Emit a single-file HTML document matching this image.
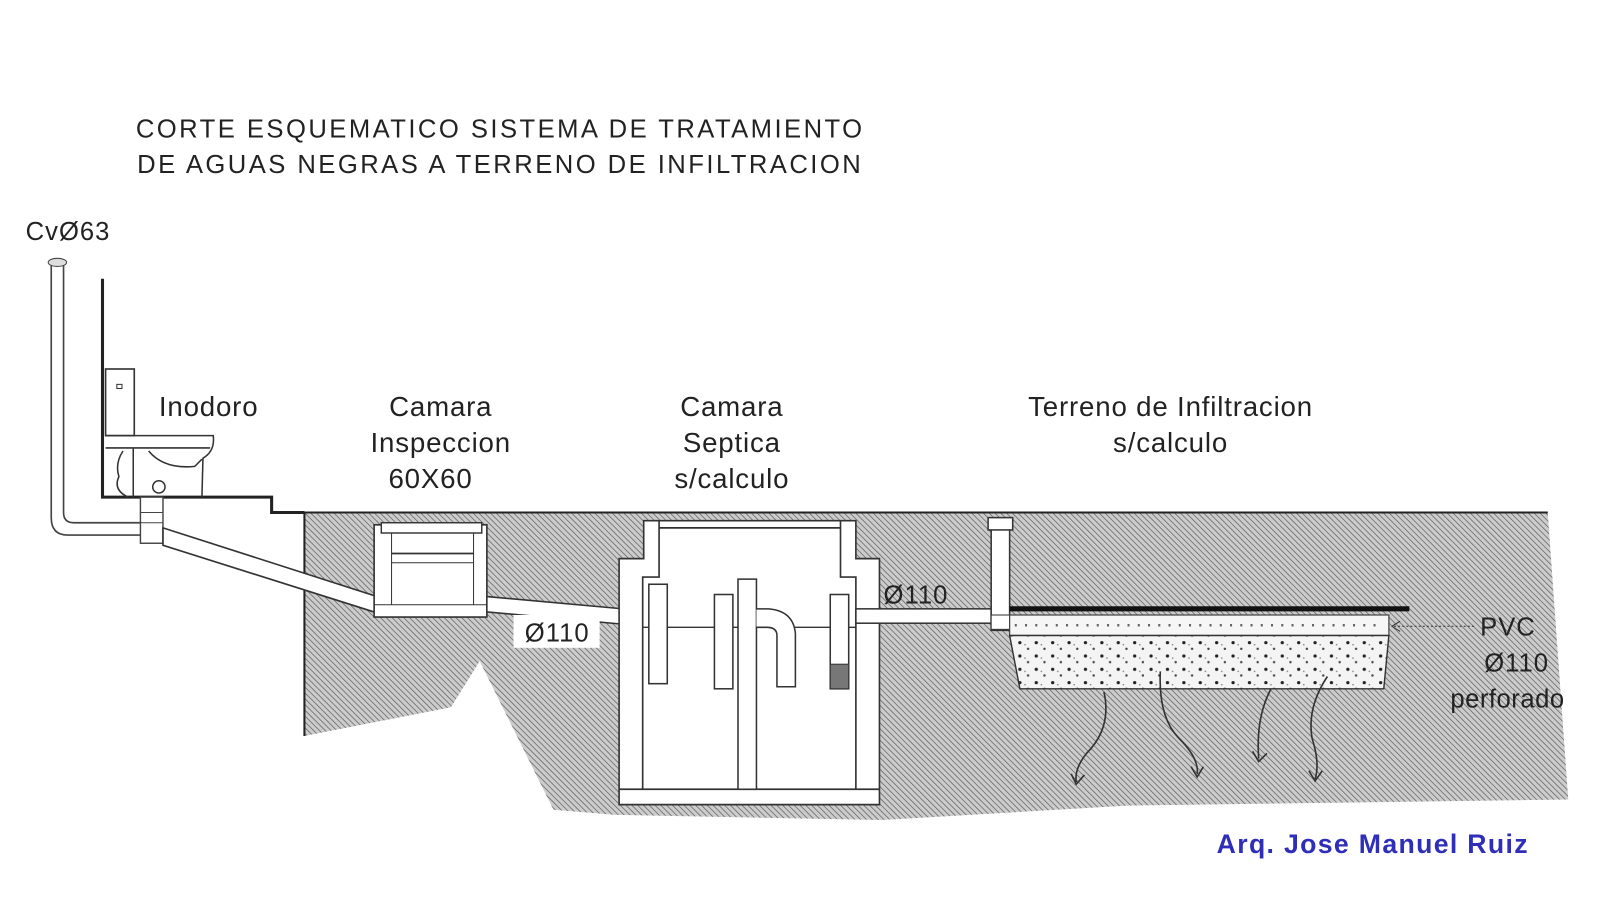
<!DOCTYPE html>
<html><head><meta charset="utf-8"><style>
html,body{margin:0;padding:0;background:#fff;}
svg{display:block;}
text{font-family:"Liberation Sans",sans-serif;fill:#222;}
.l{font-size:27px;letter-spacing:0.8px;}
</style></head><body>
<svg width="1600" height="900" viewBox="0 0 1600 900" xmlns="http://www.w3.org/2000/svg">
<defs>
<pattern id="h" width="4" height="4" patternUnits="userSpaceOnUse" patternTransform="rotate(-45)">
<rect width="4" height="4" fill="#cccccc"/>
<line x1="0" y1="0" x2="0" y2="4" stroke="#666" stroke-width="1.5"/>
</pattern>
<pattern id="dots" width="16" height="13" patternUnits="userSpaceOnUse">
<rect width="16" height="13" fill="#f4f4f4"/>
<circle cx="3" cy="3" r="1.6" fill="#222"/><circle cx="11" cy="9" r="1.2" fill="#444"/><circle cx="8" cy="5" r="0.8" fill="#888"/>
</pattern>
</defs>
<g transform="scale(1.025)">
<!-- title -->
<text x="488" y="134" font-size="25" text-anchor="middle" letter-spacing="2.4">CORTE ESQUEMATICO SISTEMA DE TRATAMIENTO</text>
<text x="488" y="169" font-size="25" text-anchor="middle" letter-spacing="2.4">DE AGUAS NEGRAS A TERRENO DE INFILTRACION</text>

<!-- ground -->
<polygon points="297,500 1510,500 1530,780 1100,786 860,800 600,795 540,790 468,645 440,690 297,718" fill="url(#h)"/>
<polyline points="297,718 297,500 1510,500" fill="none" stroke="#222" stroke-width="2"/>

<!-- building floor / wall -->
<polyline points="100,272 100,485 265,485 265,500 297,500" fill="none" stroke="#222" stroke-width="3"/>

<!-- vent pipe -->
<path d="M50,258 V505 Q50,522 66,522 H150 M62,258 V500 Q62,510 72,510 H150" fill="none" stroke="#444" stroke-width="1.6"/>
<ellipse cx="56" cy="256" rx="9" ry="4" fill="#ddd" stroke="#444"/>
<text x="25" y="234" font-size="25" letter-spacing="1">CvØ63</text>

<!-- toilet -->
<rect x="103" y="360" width="28" height="65" fill="#fff" stroke="#333" stroke-width="1.6"/>
<rect x="114" y="375" width="5" height="4" fill="none" stroke="#333"/>
<path d="M103,425 H208 Q210,440 198,447 L197,485 M103,437 H205 M120,440 Q112,452 116,465 Q110,478 125,485 M130,437 V485 M145,440 Q160,458 190,455 L197,448" fill="none" stroke="#333" stroke-width="1.5"/>
<circle cx="155" cy="475" r="6" fill="#fff" stroke="#333" stroke-width="1.5"/>
<text x="155" y="406" class="l">Inodoro</text>

<!-- drain -->
<rect x="137" y="485" width="22" height="45" fill="#fff" stroke="#444" stroke-width="1.4"/>
<line x1="137" y1="500" x2="159" y2="500" stroke="#444"/><line x1="137" y1="510" x2="159" y2="510" stroke="#444"/>
<polygon points="159,515 368,582 368,598 159,532" fill="#fff" stroke="#333" stroke-width="1.6"/>

<!-- camara inspeccion -->
<rect x="365" y="512" width="110" height="90" fill="#fff" stroke="#333" stroke-width="1.6"/>
<rect x="372" y="510" width="98" height="10" fill="#fff" stroke="#333" stroke-width="1.4"/>
<line x1="382" y1="520" x2="382" y2="590" stroke="#333"/><line x1="462" y1="520" x2="462" y2="590" stroke="#333"/>
<line x1="382" y1="540" x2="462" y2="540" stroke="#333" stroke-width="1.6"/><line x1="382" y1="549" x2="462" y2="549" stroke="#333"/>
<line x1="365" y1="590" x2="475" y2="590" stroke="#333"/>
<text x="430" y="406" class="l" text-anchor="middle">Camara</text>
<text x="430" y="441" class="l" text-anchor="middle">Inspeccion</text>
<text x="420" y="476" class="l" text-anchor="middle">60X60</text>

<!-- pipe to septic -->
<polygon points="475,582 630,596 630,611 475,597" fill="#fff" stroke="#333" stroke-width="1.5"/>
<rect x="501" y="600" width="84" height="32" fill="#fff"/>
<text x="512" y="626" font-size="25" letter-spacing="1">Ø110</text>

<!-- septic tank -->
<path d="M628,508 H835 V545 H858 V785 H604 V545 H628 Z" fill="#fff" stroke="#333" stroke-width="1.6"/>
<path d="M643,515 H820 M643,508 V563 H627 V770 M820,508 V563 H835 V770 M604,770 H858" fill="none" stroke="#333" stroke-width="1.6"/>
<line x1="627" y1="612" x2="835" y2="612" stroke="#333" stroke-width="1.4"/>
<rect x="720" y="565" width="18" height="205" fill="#fff" stroke="#333" stroke-width="1.5"/>
<rect x="633" y="570" width="18" height="97" fill="#fff" stroke="#333" stroke-width="1.5"/>
<rect x="697" y="580" width="18" height="92" fill="#fff" stroke="#333" stroke-width="1.5"/>
<path d="M738,594 H750 Q774,596 776,618 V670 H758 V620 Q758,612 748,612 H738" fill="#fff" stroke="#333" stroke-width="1.5"/>
<rect x="810" y="580" width="18" height="92" fill="#fff" stroke="#333" stroke-width="1.5"/>
<rect x="810" y="648" width="18" height="24" fill="#777" stroke="#333"/>
<text x="714" y="406" class="l" text-anchor="middle">Camara</text>
<text x="714" y="441" class="l" text-anchor="middle">Septica</text>
<text x="714" y="476" class="l" text-anchor="middle">s/calculo</text>

<!-- outlet pipe -->
<rect x="835" y="594" width="132" height="14" fill="#fff" stroke="#333" stroke-width="1.5"/>
<text x="862" y="589" font-size="25" letter-spacing="1">Ø110</text>
<rect x="967" y="515" width="18" height="100" fill="#fff" stroke="#333" stroke-width="1.5"/>
<rect x="964" y="505" width="24" height="12" fill="#fff" stroke="#333" stroke-width="1.5"/>
<rect x="967" y="600" width="18" height="14" fill="#fff" stroke="#333"/>

<!-- infiltration -->
<line x1="985" y1="594" x2="1375" y2="594" stroke="#111" stroke-width="5"/>
<rect x="985" y="600" width="370" height="20" fill="#f6f6f6" stroke="#444" stroke-width="1.2"/>
<line x1="990" y1="610" x2="1350" y2="610" stroke="#666" stroke-width="2.5" stroke-dasharray="2,8"/>
<polygon points="985,620 1355,620 1350,672 995,672" fill="url(#dots)" stroke="#333" stroke-width="1.4"/>
<g fill="none" stroke="#333" stroke-width="1.6">
<path d="M1077,675 Q1085,710 1060,735 Q1048,750 1050,763"/><path d="M1045,755 L1050,765 L1058,756"/>
<path d="M1132,655 Q1130,700 1150,720 Q1170,740 1168,755"/><path d="M1162,748 L1168,758 L1174,748"/>
<path d="M1240,672 Q1225,700 1228,740"/><path d="M1222,733 L1228,743 L1236,735"/>
<path d="M1295,660 Q1275,690 1280,720 Q1288,745 1283,760"/><path d="M1277,752 L1283,762 L1290,752"/>
</g>
<line x1="1360" y1="611" x2="1440" y2="611" stroke="#333" stroke-dasharray="2,2"/>
<path d="M1366,606 L1358,611 L1366,616" fill="none" stroke="#333"/>
<text x="1444" y="620" font-size="25" letter-spacing="1">PVC</text>
<text x="1448" y="655" font-size="25" letter-spacing="1">Ø110</text>
<text x="1415" y="690" font-size="25" letter-spacing="0.5">perforado</text>
<text x="1142" y="406" class="l" text-anchor="middle">Terreno de Infiltracion</text>
<text x="1142" y="441" class="l" text-anchor="middle">s/calculo</text>

<text x="1187" y="832" font-size="26" font-weight="bold" letter-spacing="1.3" style="fill:#2e2eb8">Arq. Jose Manuel Ruiz</text>
</g>
</svg>
</body></html>
